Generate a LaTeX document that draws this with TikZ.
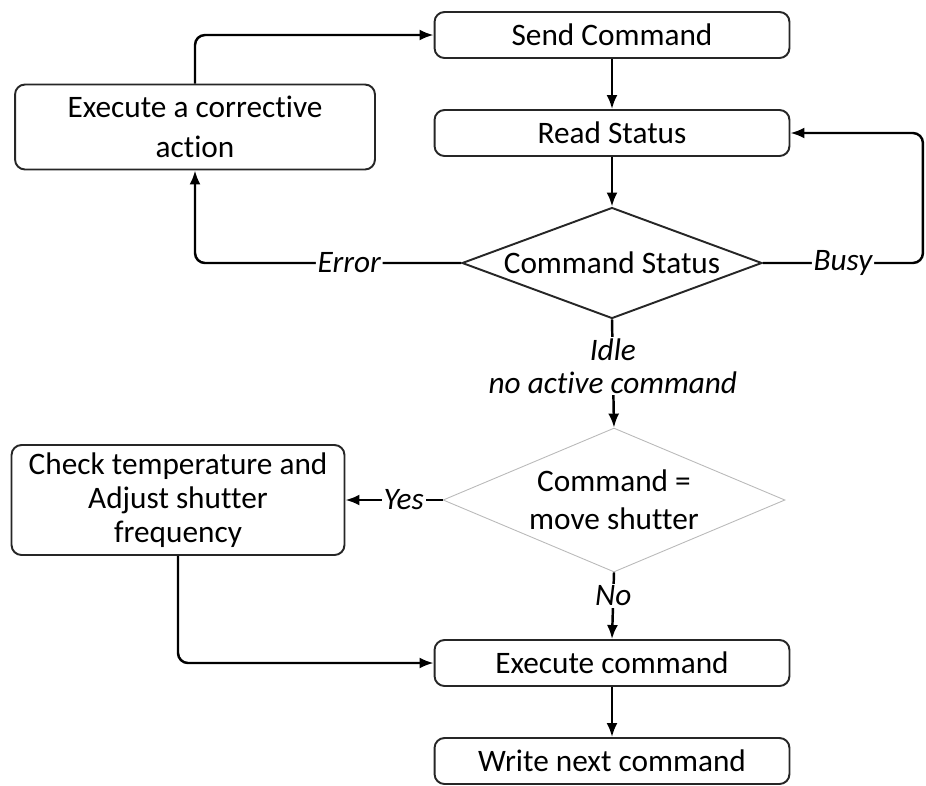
\documentclass[tikz,border=0pt]{standalone}
\usepackage{fontspec}
\setmainfont{Carlito}[Ligatures=NoCommon]
\usetikzlibrary{shapes.geometric, arrows.meta, positioning}

\begin{document}
\begin{tikzpicture}[x=0.02cm, y=-0.02cm, >={Latex[length=0.28cm, width=0.22cm]}, line width=1.4pt, align=center,
  font=\fontsize{17.8}{20}\selectfont,
  box/.style={draw=black!85, line width=1.1pt, rounded corners=0.2cm, minimum width=7.1cm, minimum height=0.92cm, inner sep=0pt},
  decision/.style={draw=black!85, line width=1.1pt, diamond, inner sep=0pt},
  lbl/.style={fill=white, font=\fontsize{17.8}{20.5}\selectfont\itshape, inner sep=1pt}]
  \useasboundingbox (0,0) rectangle (926,785);

  \node[box] (send) at (612,35) {Send Command};
  \node[box] (read) at (612,133) {Read Status};
  \node[box, minimum width=7.2cm, minimum height=1.7cm, font=\fontsize{17.8}{22.7}\selectfont] (fix) at (195,127) {Execute a corrective\\action};
  \node[decision, aspect=2.7, minimum width=6cm, minimum height=2.22cm] (status) at (612,263) {Command Status};
  \node[draw=gray!55, line width=0.5pt, diamond, inner sep=0pt, aspect=2.375, minimum width=6.84cm, minimum height=2.88cm, font=\fontsize{17.8}{21.5}\selectfont] (shutter) at (614,500) {Command =\\move shutter};
  \node[box, minimum width=6.66cm, minimum height=2.2cm, font=\fontsize{17.8}{19.3}\selectfont] (temp) at (178,500) {Check temperature and\\Adjust shutter\\frequency};
  \node[box] (exec) at (612,663) {Execute command};
  \node[box] (write) at (612,761) {Write next command};

  \draw[->] (send) -- (read);
  \draw[->] (read) -- (status);
  \draw[->, rounded corners=0.2cm] (status.west) -- node[lbl, pos=0.42] {Error} (fix.south |- status.west) -- (fix.south);
  \draw[->, rounded corners=0.2cm] (fix.north) |- (send.west);
  \draw[->, rounded corners=0.2cm] (status.east) -- node[lbl] {Busy} ++(160,0) |- (read.east);
  \draw[->] (status.south) -- node[lbl, pos=0.43, font=\fontsize{17.8}{18.7}\selectfont\itshape] {Idle\\no active command} (shutter.north);
  \draw[->] (shutter.west) -- node[lbl, pos=0.4] {Yes} (temp.east);
  \draw[->] (shutter.south) -- node[lbl, pos=0.35] {No} (exec.north);
  \draw[->, rounded corners=0.2cm] (temp.south) |- (exec.west);
  \draw[->] (exec) -- (write);
\end{tikzpicture}
\end{document}
